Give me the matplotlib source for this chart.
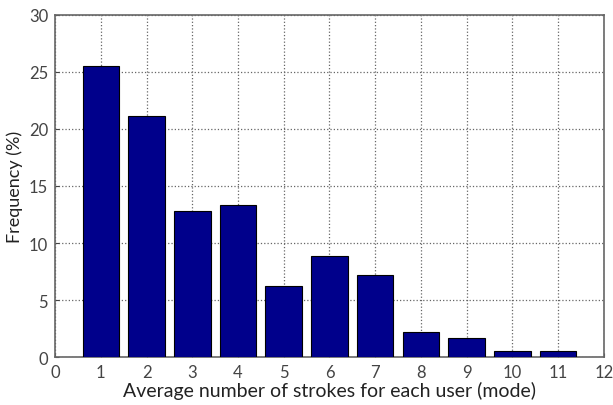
import numpy as np
import matplotlib
matplotlib.use('Agg')
import matplotlib.pyplot as plt

plt.rcParams['font.family'] = ['Lato', 'DejaVu Sans']

strokes = [1, 2, 3, 4, 5, 6, 7, 8, 9, 10, 11]
frequency = [25.5, 21.1, 12.8, 13.3, 6.2, 8.9, 7.2, 2.2, 1.7, 0.5, 0.5]

fig = plt.figure(figsize=(6.13, 4.06), dpi=100)
ax = fig.add_axes([0.09, 0.118, 0.895, 0.843])

ax.bar(strokes, frequency, width=0.8, color='#00008B', edgecolor='black', linewidth=0.8, zorder=3)

ax.set_xlim(0, 12)
ax.set_ylim(0, 30)
ax.set_xticks(range(0, 13))
ax.set_yticks(range(0, 31, 5))
ax.grid(True, linestyle=':', color='#666666', linewidth=0.9, zorder=0)
ax.tick_params(direction='in', length=3, labelsize=12, colors='#444444', pad=5)
for s in ax.spines.values():
    s.set_color('#666666')
    s.set_linewidth(1.2)

ax.set_xlabel('Average number of strokes for each user (mode)', fontsize=14, color='#222222', labelpad=1)
ax.set_ylabel('Frequency (%)', fontsize=13, color='#222222', labelpad=4)

fig.savefig('out.png', dpi=100)
